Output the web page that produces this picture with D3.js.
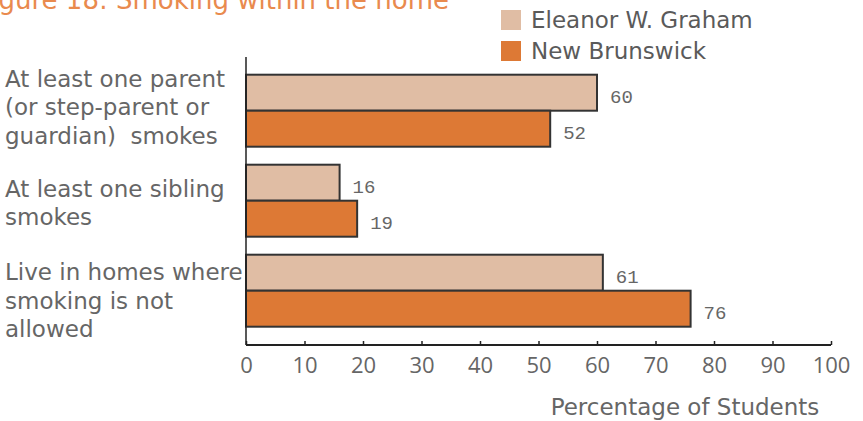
<!DOCTYPE html>
<html>
<head>
<meta charset="utf-8">
<script src="https://cdn.jsdelivr.net/npm/d3@7"></script>
<style>
  body { margin: 0; background: #fff; }
  svg { display: block; }
  .lbl { font-family: "Century Gothic", "DejaVu Sans", sans-serif; fill: #666; font-size: 23px; white-space: pre; }
  .tck { font-family: "Century Gothic", "Liberation Sans Narrow", "Open Sans", sans-serif; fill: #666; font-size: 22px; }
  .val { font-family: "Courier New", "Liberation Mono", monospace; fill: #666; font-size: 19px; }
</style>
</head>
<body>
<svg id="chart" width="863" height="421"></svg>
<script>
// chart data
var title = "Figure 18: Smoking within the home";
var categories = [
  ["At least one parent", "(or step-parent or", "guardian)  smokes"],
  ["At least one sibling", "smokes"],
  ["Live in homes where", "smoking is not", "allowed"]
];
var seriesNames = ["Eleanor W. Graham", "New Brunswick"];
var eleanorValues = [60, 16, 61];
var nbValues = [52, 19, 76];
var xTicks = [0, 10, 20, 30, 40, 50, 60, 70, 80, 90, 100];
var xTitle = "Percentage of Students";

var colors = ["#e0bda4", "#dd7935"];

var svg = d3.select("#chart");

var x = d3.scaleLinear().domain([0, 100]).range([246, 831]);
var y = d3.scaleBand()
  .domain(d3.range(categories.length))
  .range([65.7, 335.7])
  .paddingInner(0.2)
  .paddingOuter(0.1);
var ySub = d3.scaleBand().domain([0, 1]).range([0, y.bandwidth()]);

// title, cut off on the left like the source
svg.append("text")
  .attr("class", "lbl")
  .attr("x", 449)
  .attr("y", 9)
  .attr("text-anchor", "end")
  .style("fill", "#e98a4e")
  .style("font-size", "26px")
  .text(title);

// legend
var legend = svg.append("g");
seriesNames.forEach(function(name, i) {
  legend.append("rect")
    .attr("x", 501).attr("y", 10 + i * 31)
    .attr("width", 20).attr("height", 20)
    .style("fill", colors[i]);
  legend.append("text")
    .attr("class", "lbl")
    .attr("x", 531).attr("y", 28 + i * 31)
    .style("fill", "#5a5a5a")
    .text(name);
});

// bars
var rows = categories.map(function(c, i) {
  return [eleanorValues[i], nbValues[i]];
});
var groups = svg.append("g").selectAll("g")
  .data(rows)
  .enter().append("g")
  .attr("transform", function(d, i) { return "translate(0," + y(i) + ")"; });

groups.selectAll("rect")
  .data(function(d) { return d; })
  .enter().append("rect")
  .attr("x", x(0))
  .attr("y", function(d, j) { return ySub(j); })
  .attr("width", function(d) { return x(d) - x(0); })
  .attr("height", ySub.bandwidth())
  .style("fill", function(d, j) { return colors[j]; })
  .style("stroke", "#333")
  .style("stroke-width", 2);

groups.selectAll("text")
  .data(function(d) { return d; })
  .enter().append("text")
  .attr("class", "val")
  .attr("x", function(d) { return x(d) + 13; })
  .attr("y", function(d, j) { return ySub(j) + ySub.bandwidth() / 2 + 10.5; })
  .text(function(d) { return d; });

// category labels
var firstLine = [-24, -4, -10.7];
var labels = svg.append("g").selectAll("text")
  .data(categories)
  .enter().append("text")
  .attr("class", "lbl")
  .attr("x", 5)
  .attr("y", function(d, i) { return y(i) + y.bandwidth() / 2 + firstLine[i]; });
labels.selectAll("tspan")
  .data(function(d) { return d; })
  .enter().append("tspan")
  .attr("x", 5)
  .attr("dy", function(d, k) { return k === 0 ? 0 : 28.5; })
  .text(function(d) { return d; });

// y axis line
svg.append("line")
  .attr("x1", x(0)).attr("x2", x(0))
  .attr("y1", 57).attr("y2", 345)
  .style("stroke", "#222").style("stroke-width", 1.5);

// x axis
var xAxis = svg.append("g")
  .attr("transform", "translate(0,345)")
  .call(d3.axisTop(x).tickValues(xTicks).tickSize(4).tickFormat(d3.format("d")));
xAxis.select(".domain").style("stroke", "#222").style("stroke-width", 2)
  .attr("d", "M" + x(0) + ",0H" + x(100));
xAxis.selectAll(".tick line").style("stroke", "#222").style("stroke-width", 1.5);
xAxis.selectAll(".tick text")
  .attr("class", "tck")
  .attr("y", 28)
  .style("font-size", null)
  .style("fill", null);
xAxis.attr("font-family", null).attr("font-size", null);

svg.append("text")
  .attr("class", "lbl")
  .attr("x", 685).attr("y", 415)
  .attr("text-anchor", "middle")
  .text(xTitle);
</script>
</body>
</html>
